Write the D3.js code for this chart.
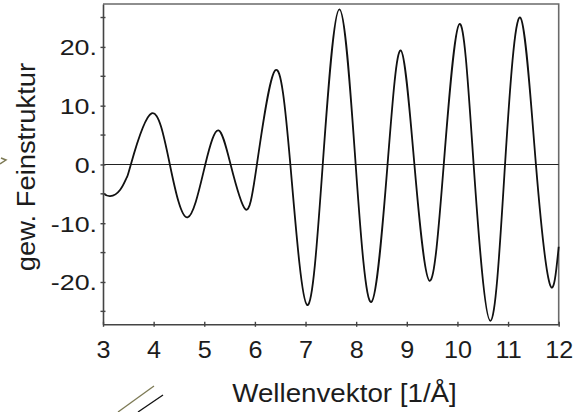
<!DOCTYPE html>
<html><head><meta charset="utf-8">
<script src="https://cdn.jsdelivr.net/npm/d3@7"></script>
<style>body{margin:0;background:#fff} svg{display:block}</style>
</head><body><svg id="c" width="587" height="412"></svg>
<script>
// ---- data ----
const kValues   = [3.00, 3.14, 3.34, 3.47, 3.55, 3.96, 4.32, 4.67, 5.02, 5.28, 5.52, 5.81, 6.04, 6.40, 6.70, 7.03, 7.34, 7.67, 7.99, 8.30, 8.62, 8.88, 9.15, 9.45, 9.73, 10.04, 10.32, 10.65, 10.94, 11.24, 11.55, 11.83, 12.00];
const chiValues = [-4.9, -5.4, -4.3, -2.2, 0.0, 8.7, 0.0, -9.0, 0.0, 5.8, 0.0, -7.6, 0.0, 16.0, 0.0, -23.9, 0.0, 26.4, 0.0, -23.4, 0.0, 19.4, 0.0, -19.8, 0.0, 23.9, 0.0, -26.6, 0.0, 25.0, 0.0, -20.5, -14.0];
const xTicks = [3, 4, 5, 6, 7, 8, 9, 10, 11, 12];
const yMajorTicks = [-20, -10, 0, 10, 20];
const yMinorTicks = [-25, -15, -5, 5, 15, 25];
const yTickLabels = ["-20.", "-10.", "0.", "10.", "20."];
const xTitle = "Wellenvektor [1/Å]";
const yTitle = "gew. Feinstruktur";

const svg = d3.select("#c");
const L = 103, R = 558.7, T = 4, B = 324.3;
const x = d3.scaleLinear().domain([3, 12]).range([L, R]);
const y = d3.scaleLinear().domain([-27.2, 27.3]).range([B, T]);
const font = "'Liberation Sans', Arial, sans-serif";
const txt = "#1c1c1c";

// frame (top/right)
svg.append("path").attr("d", `M${L},${T}H${R}V${B}`).attr("fill", "none")
  .attr("stroke", "#6a6a6a").attr("stroke-width", 1.6);

// zero line
svg.append("line").attr("x1", L).attr("x2", R).attr("y1", y(0)).attr("y2", y(0))
  .attr("stroke", "#222").attr("stroke-width", 1.1);

// curve
const pts = kValues.map((k, i) => [k, chiValues[i]]);
svg.append("path").datum(pts)
  .attr("d", d3.line().x(d => x(d[0])).y(d => y(d[1])).curve(d3.curveNatural))
  .attr("fill", "none").attr("stroke", "#111").attr("stroke-width", 1.8);

// x axis
const xAxis = d3.axisBottom(x).tickValues(xTicks).tickSize(0).tickPadding(0).tickFormat(d3.format("d"));
const gx = svg.append("g").attr("transform", `translate(0,${B})`).call(xAxis);
gx.select(".domain").attr("stroke", "#444").attr("stroke-width", 1.6);
gx.selectAll(".tick line").remove();
gx.selectAll(".tick").append("line").attr("y1", -2.5).attr("y2", 2.5).attr("stroke", "#444").attr("stroke-width", 1.4);
gx.selectAll(".tick text").attr("y", 0).attr("dy", null)
  .attr("transform", "translate(0,33.5) scale(1.05,1)").attr("fill", txt)
  .style("font-family", font).style("font-size", "24px");

// y axis major
const yAxis = d3.axisLeft(y).tickValues(yMajorTicks).tickSize(0).tickPadding(0)
  .tickFormat(d => yTickLabels[yMajorTicks.indexOf(d)]);
const gy = svg.append("g").attr("transform", `translate(${L},0)`).call(yAxis);
gy.select(".domain").attr("stroke", "#444").attr("stroke-width", 1.6);
gy.selectAll(".tick line").remove();
gy.selectAll(".tick").append("line").attr("x1", -2.5).attr("x2", 2.5).attr("stroke", "#444").attr("stroke-width", 1.4);
gy.selectAll(".tick text").attr("x", 0).attr("dy", "0.36em")
  .attr("transform", "translate(-6,0) scale(1.22,1)").attr("fill", txt)
  .style("font-family", font).style("font-size", "22px");
// y minor ticks
svg.append("g").selectAll("line").data(yMinorTicks).join("line")
  .attr("x1", L - 2.5).attr("x2", L + 2.5).attr("y1", d => y(d)).attr("y2", d => y(d))
  .attr("stroke", "#444").attr("stroke-width", 1.4);

// titles
svg.append("text").attr("transform", "translate(344.5,401.5) scale(1.11,1)").attr("text-anchor", "middle")
  .attr("fill", txt).style("font-family", font).style("font-size", "25px").text(xTitle);
svg.append("text").attr("transform", "translate(35,167) rotate(-90) scale(1.095,1)").attr("text-anchor", "middle")
  .attr("fill", txt).style("font-family", font).style("font-size", "25px").text(yTitle);

// page fragments at the border of the crop
svg.append("line").attr("x1", 118).attr("y1", 412).attr("x2", 154).attr("y2", 386)
  .attr("stroke", "#7d7a55").attr("stroke-width", 1.3);
svg.append("line").attr("x1", 138).attr("y1", 412).attr("x2", 163).attr("y2", 395)
  .attr("stroke", "#111").attr("stroke-width", 1.3);
svg.append("path").attr("d", "M0,164 L6,160 L1,158").attr("fill", "none")
  .attr("stroke", "#7d7a55").attr("stroke-width", 1.5);
</script></body></html>
